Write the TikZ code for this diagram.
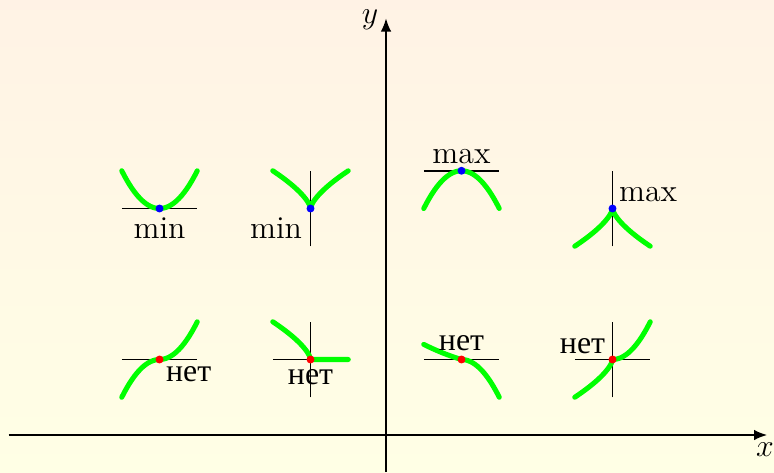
\documentclass[tikz,border=0pt]{standalone}
\usepackage{fontspec}
\usepackage{tikz}
\usetikzlibrary{arrows.meta,positioning}
\newfontfamily\cyrfont{Liberation Serif}
\newcommand{\netword}{{\cyrfont нет}}

\begin{document}
\begin{tikzpicture}[
  curve/.style={green, line width=1.9pt, line cap=round, line join=round},
  tang/.style={black, line width=0.7pt},
  axis/.style={black, line width=0.75pt, -{Latex[length=5pt,width=4pt]}},
  lbl/.style={font=\fontsize{12}{14}\selectfont, inner sep=1pt}
]
\fill[top color=orange!10, bottom color=yellow!10] (-5.113,-0.49) rectangle (5.139,5.762);
\useasboundingbox (-5.113,-0.49) rectangle (5.139,5.762);

% axes
\draw[axis] (-5,0) -- (5.05,0);
\draw[axis] (0,-0.49) -- (0,5.52);
\node[lbl] (xlab) at (5.02,-0.2) {$x$};
\node[lbl] (ylab) at (-0.21,5.5) {$y$};

\coordinate (minpar) at (-3,3);
\coordinate (mincusp) at (-1,3);
\coordinate (maxpar) at (1,3.5);
\coordinate (maxcusp) at (3,3);
\coordinate (influp) at (-3,1);
\coordinate (kink) at (-1,1);
\coordinate (infldown) at (1,1);
\coordinate (inflcusp) at (3,1);

% upper row: extrema
\draw[tang] (-3.5,3) -- (-2.5,3);
\draw[curve] plot[domain=-0.5:0.5, samples=30] ({-3+\x},{3+2*\x*\x});
\fill[blue] (minpar) circle (1.5pt);
\node[lbl, below=2.3pt of minpar] (minparlab) {min};

\draw[tang] (-1,2.5) -- (-1,3.5);
\draw[curve] plot[domain=-1:1, samples=41] ({-1+0.5*\x*\x*\x},{3+0.5*\x*\x});
\fill[blue] (mincusp) circle (1.5pt);
\node[lbl, below left=2.3pt and 2pt of mincusp] (mincusplab) {min};

\draw[tang] (0.5,3.5) -- (1.5,3.5);
\draw[curve] plot[domain=-0.5:0.5, samples=30] ({1+\x},{3.5-2*\x*\x});
\fill[blue] (maxpar) circle (1.5pt);
\node[lbl, above=1.6pt of maxpar] (maxparlab) {max};

\draw[tang] (3,2.5) -- (3,3.5);
\draw[curve] plot[domain=-1:1, samples=41] ({3+0.5*\x*\x*\x},{3-0.5*\x*\x});
\fill[blue] (maxcusp) circle (1.5pt);
\node[lbl, above right=1.3pt and 1.3pt of maxcusp] (maxcusplab) {max};

% lower row: no extremum
\draw[tang] (-3.5,1) -- (-2.5,1);
\draw[curve] plot[domain=-0.5:0.5, samples=30] ({-3+\x},{1+2*\x*abs(\x)});
\fill[red] (influp) circle (1.5pt);
\node[lbl, below right=1.3pt and 1.3pt of influp] (influplab) {\netword};

\draw[tang] (-1.5,1) -- (-0.5,1);
\draw[tang] (-1,0.5) -- (-1,1.5);
\draw[curve] plot[domain=1:0, samples=30] ({-1-0.5*\x*\x*\x},{1+0.5*\x*\x}) -- (-0.5,1);
\fill[red] (kink) circle (1.5pt);
\node[lbl, below=2.6pt of kink] (kinklab) {\netword};

\draw[tang] (0.5,1) -- (1.5,1);
\draw[curve] plot[domain=-0.5:0, samples=20] ({1+\x},{1-0.3*\x+0.2*\x*\x})
  -- plot[domain=0:0.5, samples=20] ({1+\x},{1-2*\x*\x});
\fill[red] (infldown) circle (1.5pt);
\node[lbl, above=2pt of infldown] (infldownlab) {\netword};

\draw[tang] (2.5,1) -- (3.5,1);
\draw[tang] (3,0.5) -- (3,1.5);
\draw[curve] plot[domain=1:0, samples=30] ({3-0.5*\x*\x*\x},{1-0.5*\x*\x})
  -- plot[domain=0:0.5, samples=20] ({3+\x},{1+2*\x*\x});
\fill[red] (inflcusp) circle (1.5pt);
\node[lbl, above left=0.9pt and 1.6pt of inflcusp] (inflcusplab) {\netword};
\end{tikzpicture}
\end{document}
